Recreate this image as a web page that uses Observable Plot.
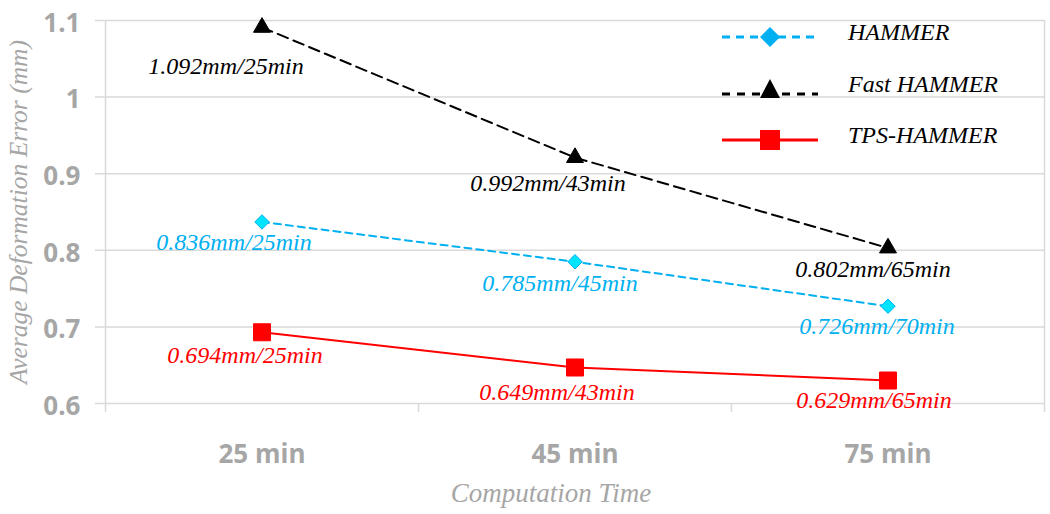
<!DOCTYPE html>
<html><head><meta charset="utf-8">
<script src="https://cdn.jsdelivr.net/npm/d3@7"></script>
<script src="https://cdn.jsdelivr.net/npm/@observablehq/plot@0.6"></script>
<style>
body{margin:0;background:#fff;}
#wrap{position:relative;width:1050px;height:514px;overflow:hidden;}
#legend{position:absolute;left:0;top:0;width:1050px;height:514px;pointer-events:none;}
.lrow{position:absolute;left:722px;height:30px;display:flex;align-items:center;}
.lrow span{position:absolute;left:126px;white-space:nowrap;font-family:"Liberation Serif","Times New Roman",serif;font-style:italic;font-size:24px;color:#000;top:-5px;line-height:30px;}
</style></head><body><div id="wrap"><div id="legend"></div></div>
<script>
// ---- data ----
const categories = ["25 min", "45 min", "75 min"];
const seriesNames = ["HAMMER", "Fast HAMMER", "TPS-HAMMER"];
const hammerValues = [0.837, 0.785, 0.727];
const fastHammerValues = [1.091, 0.921, 0.803];
const tpsHammerValues = [0.693, 0.647, 0.630];
const hammerLabels = ["0.836mm/25min", "0.785mm/45min", "0.726mm/70min"];
const fastHammerLabels = ["1.092mm/25min", "0.992mm/43min", "0.802mm/65min"];
const tpsHammerLabels = ["0.694mm/25min", "0.649mm/43min", "0.629mm/65min"];
const yTicks = [0.6, 0.7, 0.8, 0.9, 1.0, 1.1];
const xTitle = "Computation Time";
const yTitle = "Average Deformation Error (mm)";

// ---- layout / styles ----
const W = 1050, H = 514, mL = 105, mR = 6, mT = 20, mB = 111;
const bw = (W - mL - mR) / categories.length;
const plotH = H - mT - mB;
const grid = "#d9d9d9", axisGray = "#a6a6a6";
const serif = "Liberation Serif, Times New Roman, serif";
const styles = {
  "HAMMER": {color: "#00b0f0", dash: "7,5", symbol: "diamond2", r: 6.5, fill: "#00e4ff", stroke: "#00b0f0",
             offsets: [[-28, 20], [-15, 22], [-11, 20]]},
  "Fast HAMMER": {color: "#000", dash: "11,6", symbol: "triangle", r: 6.3, fill: "#000", stroke: "#000",
             offsets: [[-36, 39], [-27, 26], [-15, 21]]},
  "TPS-HAMMER": {color: "#ff0000", dash: null, symbol: "square", r: 9.6, fill: "#ff0000", stroke: "#ff0000",
             offsets: [[-17, 23], [-18, 25], [-14, 20]]}
};
const valuesBy = {"HAMMER": hammerValues, "Fast HAMMER": fastHammerValues, "TPS-HAMMER": tpsHammerValues};
const labelsBy = {"HAMMER": hammerLabels, "Fast HAMMER": fastHammerLabels, "TPS-HAMMER": tpsHammerLabels};

const marks = [
  Plot.ruleY(yTicks, {stroke: grid, strokeWidth: 1.5, insetLeft: -10}),
  Plot.ruleX([categories[0]], {dx: -bw / 2, stroke: grid, strokeWidth: 1.5, insetBottom: -9}),
  Plot.ruleX(categories.slice(1), {dx: -bw / 2, stroke: grid, strokeWidth: 1.5, insetTop: plotH, insetBottom: -9}),
  Plot.ruleX([categories[categories.length - 1]], {dx: bw / 2, stroke: grid, strokeWidth: 1.5, insetBottom: -9}),
  Plot.axisY(yTicks, {tickSize: 0, tickPadding: 25, dy: 3, color: axisGray, fontSize: 26, fontWeight: "bold",
    fontFamily: "Open Sans, sans-serif", tickFormat: d => d === 1 ? "1" : d.toFixed(1), label: null}),
  Plot.axisX({tickSize: 0, tickPadding: 41, color: axisGray, fontSize: 26, fontWeight: "bold",
    fontFamily: "Open Sans, sans-serif", label: null}),
  Plot.text([yTitle], {frameAnchor: "left", textAnchor: "middle", lineAnchor: "middle", rotate: -90, dx: -87,
    fill: axisGray, fontSize: 25.5, fontFamily: serif, fontStyle: "italic"}),
  Plot.text([xTitle], {frameAnchor: "bottom", textAnchor: "middle", lineAnchor: "middle", dx: -24, dy: 90,
    fill: axisGray, fontSize: 27, fontFamily: serif, fontStyle: "italic"})
];

for (const name of seriesNames) {
  const s = styles[name];
  const rows = categories.map((c, i) => ({cat: c, v: valuesBy[name][i], label: labelsBy[name][i]}));
  marks.push(Plot.line(rows, {x: "cat", y: "v", stroke: s.color, strokeWidth: 2, strokeDasharray: s.dash}));
}
for (const name of seriesNames) {
  const s = styles[name];
  const rows = categories.map((c, i) => ({cat: c, v: valuesBy[name][i], label: labelsBy[name][i]}));
  marks.push(Plot.dot(rows, {x: "cat", y: "v", symbol: s.symbol, r: s.r, fill: s.fill, stroke: s.stroke, strokeWidth: 1}));
  rows.forEach((row, i) => {
    marks.push(Plot.text([row], {x: "cat", y: "v", text: "label", dx: s.offsets[i][0], dy: s.offsets[i][1],
      fill: s.color, fontSize: 24, fontFamily: serif, fontStyle: "italic"}));
  });
}

const chart = Plot.plot({
  width: W, height: H,
  marginLeft: mL, marginRight: mR, marginTop: mT, marginBottom: mB,
  x: {type: "band", domain: categories, padding: 0, axis: null},
  y: {domain: [0.6, 1.1], axis: null},
  style: {background: "#fff", overflow: "visible"},
  marks
});
document.getElementById("wrap").prepend(chart);

// ---- legend ----
const legendTop = {"HAMMER": 22, "Fast HAMMER": 74, "TPS-HAMMER": 125};
const legendMarker = {
  "HAMMER": `<path d="M48,5 L58,15 L48,25 L38,15 Z" fill="#00b0f0"/>`,
  "Fast HAMMER": `<path d="M48,5 L58,24 L38,24 Z" fill="#000"/>`,
  "TPS-HAMMER": `<rect x="38" y="5" width="20" height="20" fill="#ff0000"/>`
};
const legendLine = {
  "HAMMER": `<line x1="0" x2="96" y1="15" y2="15" stroke="#00b0f0" stroke-width="3" stroke-dasharray="8,6"/>`,
  "Fast HAMMER": `<line x1="0" x2="96" y1="20" y2="20" stroke="#000" stroke-width="3" stroke-dasharray="8,7"/>`,
  "TPS-HAMMER": `<line x1="0" x2="96" y1="15" y2="15" stroke="#ff0000" stroke-width="3"/>`
};
const legend = document.getElementById("legend");
for (const name of seriesNames) {
  const row = document.createElement("div");
  row.className = "lrow";
  row.style.top = legendTop[name] + "px";
  row.innerHTML = `<svg width="96" height="30">${legendLine[name]}${legendMarker[name]}</svg><span>${name}</span>`;
  legend.appendChild(row);
}
</script>
</body></html>
